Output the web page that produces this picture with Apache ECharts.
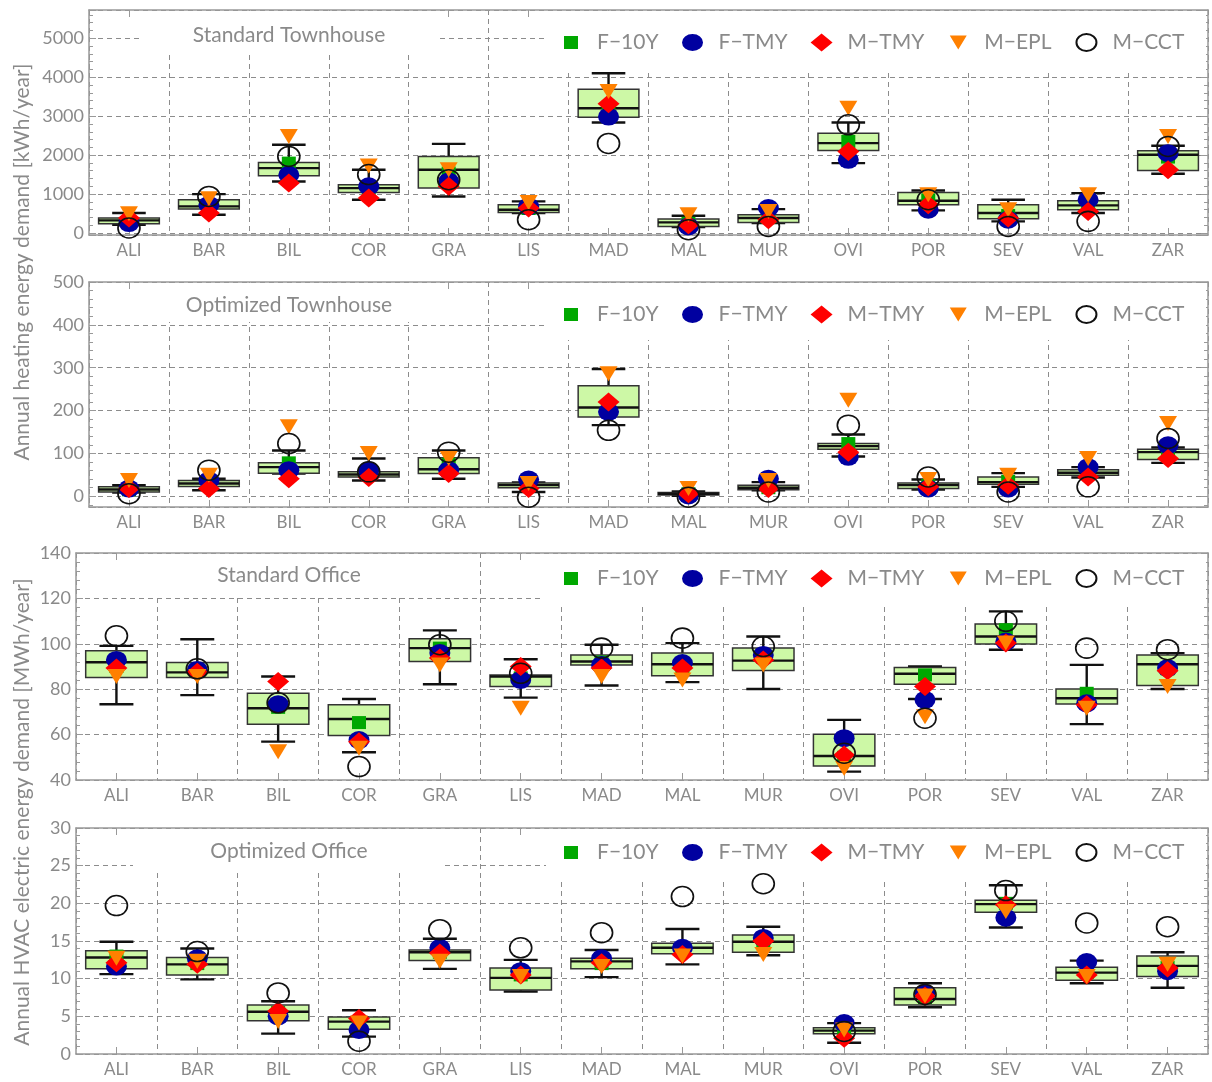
<!DOCTYPE html>
<html>
<head>
<meta charset="utf-8">
<script src="https://cdn.jsdelivr.net/npm/echarts@6/dist/echarts.min.js"></script>
<style>
  html, body { margin: 0; padding: 0; background: #fff; }
  #chart { width: 1212px; height: 1082px; }
</style>
</head>
<body>
<div id="chart"></div>
<script>
// ---- data ----
var cities = ['ALI', 'BAR', 'BIL', 'COR', 'GRA', 'LIS', 'MAD', 'MAL', 'MUR', 'OVI', 'POR', 'SEV', 'VAL', 'ZAR'];
var seriesNames = ['F\u221210Y', 'F\u2212TMY', 'M\u2212TMY', 'M\u2212EPL', 'M\u2212CCT'];
var panelTitles = ['Standard Townhouse', 'Optimized Townhouse', 'Standard Office', 'Optimized Office'];

// box plots: [min, q1, median, q3, max] per city
var stdTownBox = [[215, 240, 325, 385, 513], [470, 615, 684, 855, 1000], [1325, 1470, 1667, 1812, 2265],
    [855, 1043, 1154, 1240, 1624], [940, 1154, 1624, 1966, 2290], [513, 530, 600, 726, 812],
    [2838, 2974, 3205, 3692, 4100], [154, 171, 273, 359, 444], [256, 273, 385, 470, 615],
    [1795, 2120, 2308, 2564, 2838], [581, 726, 829, 1043, 1094], [300, 367, 513, 726, 855],
    [513, 598, 710, 829, 1025], [1521, 1607, 2008, 2111, 2240]];
var stdTownF10Y = [300, 700, 1795, 1150, 1540, 630, 3200, 250, 400, 2350, 850, 450, 700, 1950];
var stdTownFTMY = [256, 726, 1496, 1200, 1325, 684, 2990, 170, 640, 1880, 598, 342, 855, 2051];
var stdTownMTMY = [385, 513, 1282, 900, 1200, 640, 3316, 214, 342, 2094, 726, 385, 555, 1624];
var stdTownMEPL = [495, 880, 2480, 1720, 1624, 786, 3630, 470, 555, 3205, 983, 598, 983, 2480];
var stdTownMCCT = [130, 940, 1966, 1500, 1370, 342, 2300, 85, 170, 2778, 855, 171, 300, 2222];

var optTownBox = [[9, 10, 16, 22, 26], [14, 23, 30, 37, 41], [53, 54, 68, 78, 107],
    [37, 45, 51, 57, 88], [41, 53, 63, 90, 107], [10, 20, 26, 31, 32],
    [166, 185, 207, 258, 297], [1, 3, 6, 9, 11], [14, 15, 20, 26, 33],
    [93, 110, 117, 123, 144], [16, 18, 26, 31, 39], [22, 28, 33, 45, 54],
    [44, 49, 55, 62, 68], [78, 86, 103, 110, 114]];
var optTownF10Y = [15, 30, 78, 55, 75, 25, 205, 6, 20, 123, 25, 35, 57, 110];
var optTownFTMY = [18, 37, 61, 61, 61, 39, 197, 2, 41, 92, 18, 18, 68, 119];
var optTownMTMY = [18, 18, 41, 44, 53, 18, 220, 6, 18, 103, 22, 26, 45, 88];
var optTownMEPL = [37, 49, 162, 100, 88, 30, 286, 18, 37, 224, 39, 49, 88, 170];
var optTownMCCT = [6, 61, 123, 57, 103, -2, 154, -2, 10, 166, 45, 10, 22, 135];

var stdOffBox = [[73.4, 85.1, 91.9, 96.9, 99.1], [77.4, 85.2, 87.4, 91.8, 102], [56.9, 64.6, 71.6, 78.2, 85.6],
    [52.2, 59.6, 66.9, 73.1, 75.7], [82.2, 92.2, 98.1, 102.2, 105.9], [76.3, 81.2, 85.6, 86.3, 93.2],
    [81.6, 90.7, 92.2, 95.1, 99.6], [83.1, 85.9, 91, 95.9, 100.3], [80.1, 88.2, 92.6, 98.1, 103.2],
    [43.7, 46.2, 50.6, 60.1, 66.5], [75.7, 82.2, 86.8, 89.6, 90], [97.4, 99.9, 103.2, 108.7, 114.3],
    [64.6, 73.5, 76, 80.1, 90.7], [80.1, 81.6, 91, 95.1, 95.9]];
var stdOffF10Y = [90, 88, 72, 65.3, 98.1, 85, 92, 90, 94, 50, 86.3, 106.2, 78.2, 89];
var stdOffFTMY = [92.9, 88.5, 73.4, 57.6, 95.9, 84.1, 90.7, 91.5, 95.1, 58.4, 75.3, 101, 73.8, 89.3];
var stdOffMTMY = [89.3, 87.5, 83.4, 56.9, 93.7, 90, 89.3, 89.3, 92.9, 51, 81.2, 100.3, 73.1, 88.1];
var stdOffMEPL = [85.6, 85.6, 52.5, 54, 90.7, 71.6, 85.6, 84.1, 90.7, 45.1, 67.9, 100.3, 71.6, 81.2];
var stdOffMCCT = [103.5, 89, 74, 45.9, 99.6, 87, 98.1, 102.5, 98.8, 51.8, 67.2, 109.9, 98.1, 97.4];

var optOffBox = [[10.6, 11.3, 12.8, 13.7, 14.9], [9.9, 10.5, 11.9, 12.8, 14], [2.7, 4.4, 5.6, 6.5, 7],
    [2.3, 3.3, 4.3, 4.9, 5.8], [11.3, 12.4, 13.5, 13.8, 15.3], [8.3, 8.5, 10.1, 11.4, 12.5],
    [10.2, 11.3, 12.3, 12.7, 13.8], [11.9, 13.3, 14.1, 14.7, 16.6], [13.1, 13.5, 14.9, 15.8, 16.9],
    [1.5, 2.7, 3.1, 3.5, 4.1], [6.2, 6.5, 7.3, 8.8, 9.4], [16.8, 18.8, 19.9, 20.4, 22.4],
    [9.4, 9.8, 10.8, 11.5, 12.4], [8.8, 10.3, 11.7, 13, 13.5]];
var optOffF10Y = [13, 12, 5.5, 4, 13.5, 10.5, 12, 14, 15, 3, 7.5, 20, 10.8, 11.5];
var optOffFTMY = [11.6, 12.7, 5, 3.2, 14.1, 11, 12.7, 14.1, 15.4, 4.1, 8.1, 18.1, 12.2, 11];
var optOffMTMY = [12.1, 11.9, 5.7, 4.7, 13.4, 10.5, 12.1, 13.2, 15, 2.1, 7.7, 19.8, 10.5, 11.4];
var optOffMEPL = [12.7, 12.3, 4.3, 4.1, 12.3, 10.3, 11.6, 13, 13.2, 3.2, 7.7, 18.9, 10.3, 11.9];
var optOffMCCT = [19.7, 13.6, 8.1, 1.7, 16.5, 14.1, 16.1, 20.9, 22.6, 3, 7.9, 21.7, 17.4, 16.9];

// ---- layout / style ----
var FONT = 'Lato';
var GRAY = '#8a8a8a';
var AXIS = '#999999';
var GRIDLINE = '#8c8c8c';

var panels = [
    { box: stdTownBox, pts: [stdTownF10Y, stdTownFTMY, stdTownMTMY, stdTownMEPL, stdTownMCCT],
      grid: { left: 89, right: 4, top: 10, height: 225 },
      y: { min: -50, max: 5725, splitNumber: 6, hideMin: true, hideMax: true },
      titleBox: [140, 11, 300, 42], legendBox: [546, 11, 660, 61] },
    { box: optTownBox, pts: [optTownF10Y, optTownFTMY, optTownMTMY, optTownMEPL, optTownMCCT],
      grid: { left: 89, right: 4, top: 282, height: 225 },
      y: { min: -25, max: 500, splitNumber: 5, hideMin: true, hideMax: false },
      titleBox: [140, 283, 300, 39], legendBox: [546, 283, 660, 57] },
    { box: stdOffBox, pts: [stdOffF10Y, stdOffFTMY, stdOffMTMY, stdOffMEPL, stdOffMCCT],
      grid: { left: 76, right: 4, top: 553, height: 227 },
      y: { min: 40, max: 140, interval: 20, hideMin: false, hideMax: false },
      titleBox: [133, 554, 312, 43], legendBox: [542, 554, 664, 51] },
    { box: optOffBox, pts: [optOffF10Y, optOffFTMY, optOffMTMY, optOffMEPL, optOffMCCT],
      grid: { left: 76, right: 4, top: 828, height: 226 },
      y: { min: 0, max: 30, interval: 5, hideMin: false, hideMax: false },
      titleBox: [133, 829, 312, 40], legendBox: [546, 829, 660, 49] }
];
var titleOffsets = [25, 23, 22, 23];
var legendOffsets = [31, 31, 24, 23];

var markerStyles = [
    { symbol: 'rect', size: [14, 13], itemStyle: { color: '#00a800', opacity: 1 } },
    { symbol: 'circle', size: [21, 18], itemStyle: { color: '#0000a0', opacity: 1 } },
    { symbol: 'diamond', size: [22, 19], itemStyle: { color: '#ff0000', opacity: 1 } },
    { symbol: 'path://M0,0L20,0L10,16Z', size: [18, 15], itemStyle: { color: '#ff8000', opacity: 1 } },
    { symbol: 'circle', size: [22, 20], itemStyle: { color: 'rgba(0,0,0,0)', borderColor: '#111', borderWidth: 1.6, opacity: 1 } }
];
// legend icons drawn inside a 32x18 box, shape centred at x = 11
var PAD = 'M0,0h0.001M31.999,18h0.001';
var legendIcons = [
    'path://' + PAD + 'M4,2.5h14v13h-14z',
    'path://' + PAD + 'M0.5,9A10.5,8.5,0,1,1,21.5,9A10.5,8.5,0,1,1,0.5,9Z',
    'path://' + PAD + 'M0,9L11,0L22,9L11,18Z',
    'path://' + PAD + 'M2.5,2L19.5,2L11,16Z',
    'path://' + PAD + 'M1,9A10,8.5,0,1,1,21,9A10,8.5,0,1,1,1,9Z'
];

var chart = echarts.init(document.getElementById('chart'));

var grids = [], xAxes = [], yAxes = [], series = [], legends = [], graphics = [];

panels.forEach(function(p, i) {
    grids.push(p.grid);

    // bottom category axis
    xAxes.push({
        type: 'category', gridIndex: i, data: cities, boundaryGap: true,
        axisLine: { onZero: false, lineStyle: { color: AXIS, width: 1.5 } },
        axisTick: { show: true, inside: true, alignWithLabel: true, length: 7, lineStyle: { color: AXIS } },
        axisLabel: { color: GRAY, fontSize: 17, fontFamily: FONT, margin: 7 },
        splitLine: { show: true, lineStyle: { color: GRIDLINE, type: [5, 4], width: 1 } }
    });
    // top mirror axis (ticks only)
    xAxes.push({
        type: 'category', gridIndex: i, data: cities, position: 'top', boundaryGap: true,
        axisLine: { onZero: false, lineStyle: { color: AXIS, width: 1.5 } },
        axisTick: { show: true, inside: true, alignWithLabel: true, length: 7, lineStyle: { color: AXIS } },
        axisLabel: { show: false }, splitLine: { show: false }
    });

    var yBase = {
        type: 'value', gridIndex: i, min: p.y.min, max: p.y.max,
        axisLine: { show: true, onZero: false, lineStyle: { color: AXIS, width: 1.5 } },
        axisTick: { show: true, inside: true, length: 7, lineStyle: { color: AXIS } },
        minorTick: { show: true, splitNumber: 5, length: 4, lineStyle: { color: AXIS } }
    };
    if (p.y.interval) yBase.interval = p.y.interval; else yBase.splitNumber = p.y.splitNumber;

    yAxes.push(Object.assign({}, yBase, {
        position: 'left',
        axisLabel: { color: GRAY, fontSize: 18, fontFamily: FONT, margin: 5,
                     showMinLabel: !p.y.hideMin, showMaxLabel: !p.y.hideMax,
                     formatter: function(v) { return String(v); } },
        splitLine: { show: true, lineStyle: { color: GRIDLINE, type: [5, 4], width: 1 } }
    }));
    yAxes.push(Object.assign({}, yBase, {
        position: 'right', axisLabel: { show: false }, splitLine: { show: false }
    }));

    // box plots via custom series
    series.push({
        type: 'custom', xAxisIndex: 2 * i, yAxisIndex: 2 * i, z: 2,
        data: p.box.map(function(b, k) { return [k, b[0], b[1], b[2], b[3], b[4]]; }),
        encode: { x: 0, y: [1, 2, 3, 4, 5] },
        renderItem: function(params, api) {
            var k = api.value(0);
            var lo = api.coord([k, api.value(1)]);
            var q1 = api.coord([k, api.value(2)]);
            var md = api.coord([k, api.value(3)]);
            var q3 = api.coord([k, api.value(4)]);
            var hi = api.coord([k, api.value(5)]);
            var band = api.size([1, 0])[0];
            var bw = band * 0.76, cw = band * 0.42;
            var x = lo[0];
            var ln = { stroke: '#111', lineWidth: 2.4 };
            return {
                type: 'group',
                children: [
                    { type: 'line', shape: { x1: x, y1: hi[1], x2: x, y2: q3[1] }, style: ln },
                    { type: 'line', shape: { x1: x, y1: lo[1], x2: x, y2: q1[1] }, style: ln },
                    { type: 'line', shape: { x1: x - cw / 2, y1: hi[1], x2: x + cw / 2, y2: hi[1] }, style: ln },
                    { type: 'line', shape: { x1: x - cw / 2, y1: lo[1], x2: x + cw / 2, y2: lo[1] }, style: ln },
                    { type: 'rect', shape: { x: x - bw / 2, y: q3[1], width: bw, height: q1[1] - q3[1] },
                      style: { fill: '#cdf8a6', stroke: '#333', lineWidth: 1.5 } },
                    { type: 'line', shape: { x1: x - bw / 2, y1: md[1], x2: x + bw / 2, y2: md[1] }, style: ln }
                ]
            };
        }
    });

    // markers
    p.pts.forEach(function(vals, s) {
        var m = markerStyles[s];
        series.push({
            type: 'scatter', name: seriesNames[s], xAxisIndex: 2 * i, yAxisIndex: 2 * i,
            symbol: m.symbol, symbolSize: m.size, itemStyle: m.itemStyle, z: 3 + s,
            emphasis: { disabled: true },
            data: vals.map(function(v, k) { return [k, v]; })
        });
    });

    legends.push({
        left: 560, top: p.grid.top + legendOffsets[i] - 9,
        padding: 0, itemGap: 23, itemWidth: 32, itemHeight: 18,
        selectedMode: false,
        textStyle: { color: GRAY, fontSize: 21, fontFamily: FONT },
        data: seriesNames.map(function(n, s) { return { name: n, icon: legendIcons[s] }; })
    });

    // white boxes behind panel title and legend (they hide the grid lines)
    graphics.push({ type: 'rect', z: 1, shape: { x: p.titleBox[0], y: p.titleBox[1], width: p.titleBox[2], height: p.titleBox[3] },
                    style: { fill: '#fff' }, silent: true });
    graphics.push({ type: 'rect', z: 1, shape: { x: p.legendBox[0], y: p.legendBox[1], width: p.legendBox[2], height: p.legendBox[3] },
                    style: { fill: '#fff' }, silent: true });
    graphics.push({ type: 'text', z: 10, x: 289, y: p.grid.top + titleOffsets[i],
                    style: { text: panelTitles[i], fill: GRAY, font: '21px ' + FONT, textAlign: 'center', textVerticalAlign: 'middle' } });
});

graphics.push({ type: 'text', z: 10, x: 22, y: 262, rotation: Math.PI / 2,
                style: { text: 'Annual heating energy demand [kWh/year]', fill: GRAY, font: '21px ' + FONT,
                         textAlign: 'center', textVerticalAlign: 'middle' } });
graphics.push({ type: 'text', z: 10, x: 22, y: 812, rotation: Math.PI / 2,
                style: { text: 'Annual HVAC electric energy demand [MWh/year]', fill: GRAY, font: '21px ' + FONT,
                         textAlign: 'center', textVerticalAlign: 'middle' } });

chart.setOption({
    backgroundColor: '#fff',
    animation: false,
    textStyle: { fontFamily: FONT },
    grid: grids,
    xAxis: xAxes,
    yAxis: yAxes,
    legend: legends,
    graphic: graphics,
    series: series
});
</script>
</body>
</html>
